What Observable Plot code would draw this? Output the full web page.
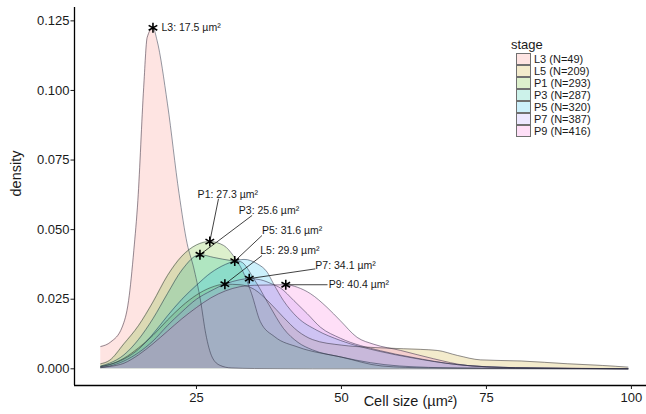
<!DOCTYPE html>
<html><head><meta charset="utf-8">
<script src="https://cdn.jsdelivr.net/npm/d3@7"></script>
<script src="https://cdn.jsdelivr.net/npm/@observablehq/plot@0.6"></script>
<style>
body{margin:0;background:#fff;}
#wrap{position:relative;width:646px;height:414px;font-family:"Liberation Sans",Arial,sans-serif;color:#1a1a1a;}
#legend{position:absolute;left:511px;top:37px;}
#legend .title{font-size:13px;line-height:15px;margin-bottom:1px;}
#legend .row{display:flex;align-items:center;height:12px;margin-left:5px;}
#legend .key{width:15px;height:12px;box-sizing:border-box;border:1px solid #707070;}
#legend .lab{font-size:11px;margin-left:3px;white-space:nowrap;}
</style></head><body><div id="wrap"></div>
<script>
// ---- data ----
const stages = ["L3", "L5", "P1", "P3", "P5", "P7", "P9"];
const counts = [49, 209, 293, 287, 320, 387, 416];
const colors = ["#F8766D", "#C49A00", "#53B400", "#00C094", "#00B6EB", "#A58AFF", "#FB61D7"];

const L3x = [8.5, 10.2, 12.2, 13.3, 14.2, 14.9, 15.9, 16.5, 17.5, 18.2, 20, 22, 23.4, 24.5, 25.7, 26.6, 27.7, 29.1, 31, 35, 45, 60, 80, 99.4];
const L3y = [0.008, 0.0096, 0.015, 0.0245, 0.0425, 0.0605, 0.101, 0.119, 0.1225, 0.118, 0.0952, 0.0629, 0.0449, 0.0365, 0.0245, 0.0126, 0.0042, 0.0012, 0.0003, 0.0001, 0, 0, 0, 0];

const L5x = [8.5, 10, 12.5, 15, 17.5, 20, 22.5, 25, 27.5, 29.9, 32.5, 35, 37.5, 40, 42.5, 45, 50, 55, 60.7, 66.5, 70, 74, 81, 89, 95, 99.4];
const L5y = [0.0008, 0.0015, 0.0038, 0.0075, 0.012, 0.0175, 0.0225, 0.0265, 0.0292, 0.0304, 0.0302, 0.0285, 0.024, 0.0185, 0.0135, 0.0105, 0.0085, 0.0077, 0.0072, 0.0066, 0.0048, 0.0032, 0.0028, 0.0018, 0.0012, 0.0006];

const P1x = [8.5, 10, 12.5, 15, 17.5, 20, 22.5, 25, 27.3, 29.7, 31.4, 33, 34.5, 36, 38.5, 42.5, 50, 57, 65, 80, 99.4];
const P1y = [0.0018, 0.003, 0.009, 0.0155, 0.024, 0.0335, 0.0405, 0.0445, 0.0457, 0.0443, 0.0405, 0.035, 0.027, 0.017, 0.0115, 0.0078, 0.0042, 0.001, 0.0003, 0.0001, 0];

const P3x = [8.5, 10, 12.5, 15, 17.5, 20, 22.5, 25.6, 28, 30.9, 32.6, 35, 37.5, 40, 42.5, 45, 50, 55, 60, 70, 99.4];
const P3y = [0.001, 0.002, 0.005, 0.0105, 0.018, 0.027, 0.0355, 0.041, 0.040, 0.0389, 0.0385, 0.032, 0.023, 0.0145, 0.0095, 0.0068, 0.0042, 0.0022, 0.001, 0.0003, 0];

const P5x = [8.5, 10, 12.5, 15, 17.5, 20, 22.5, 25, 27.5, 30, 31.6, 33.2, 35.5, 37.2, 38.3, 40, 42.4, 45.8, 49.8, 56.7, 62, 70, 80, 99.4];
const P5y = [0.0008, 0.0015, 0.0035, 0.007, 0.0125, 0.019, 0.025, 0.030, 0.0345, 0.0375, 0.0387, 0.0393, 0.0377, 0.0347, 0.0305, 0.0245, 0.0185, 0.0138, 0.0102, 0.0062, 0.004, 0.0015, 0.0004, 0];

const P7x = [8.5, 10, 12.5, 15, 17.5, 20, 22.5, 25, 27.5, 30, 32.5, 34.1, 36, 38, 39.5, 41.8, 44.1, 46.4, 49.8, 56.7, 62, 70, 80, 99.4];
const P7y = [0.0005, 0.001, 0.0028, 0.0058, 0.010, 0.0155, 0.0205, 0.025, 0.028, 0.0305, 0.032, 0.0324, 0.032, 0.0305, 0.029, 0.0245, 0.0198, 0.0149, 0.011, 0.0065, 0.0042, 0.0015, 0.0004, 0];

const P9x = [8.5, 10, 12.5, 15, 17.5, 20, 22.5, 25, 27.5, 30, 32.5, 35, 37.5, 40.4, 42.4, 44.65, 47.5, 49.8, 52.7, 55.6, 60.2, 65.9, 71.7, 80, 90, 99.4];
const P9y = [0.0004, 0.0008, 0.002, 0.005, 0.009, 0.0135, 0.018, 0.022, 0.0255, 0.028, 0.0295, 0.0300, 0.0301, 0.0302, 0.0293, 0.027, 0.0221, 0.0173, 0.0113, 0.0088, 0.0066, 0.0036, 0.0012, 0.0004, 0.0002, 0];

// annotated values (µm²) and the density at that point
const markX = [17.5, 29.9, 27.3, 25.6, 31.6, 34.1, 40.4];
const markY = [0.1225, 0.0304, 0.0457, 0.041, 0.0387, 0.0324, 0.0302];
// label anchors (data units) and leader-line ends
const labelX = [18.97, 36.0, 25.2, 32.3, 36.3, 45.5, 47.8];
const labelY = [0.1225, 0.0425, 0.0626, 0.0569, 0.0497, 0.0371, 0.0302];
const lineX = [null, 36.3, 28.8, 34.6, 36.3, 45.5, 47.6];
const lineY = [null, 0.0407, 0.0611, 0.0551, 0.0479, 0.0359, 0.0302];

const xTicks = [25, 50, 75, 100];
const yTicks = [0, 0.025, 0.05, 0.075, 0.1, 0.125];
const xDomain = [3.97, 102.6];
const yDomain = [-0.0060, 0.1298];

// ---- build tidy table ----
const seriesX = [L3x, L5x, P1x, P3x, P5x, P7x, P9x];
const seriesY = [L3y, L5y, P1y, P3y, P5y, P7y, P9y];
const dens = [];
stages.forEach((s, i) => seriesX[i].forEach((x, j) => dens.push({stage: s, x, y: seriesY[i][j]})));
const marks = stages.map((s, i) => ({
  stage: s, x: markX[i], y: markY[i], lx: labelX[i], ly: labelY[i], ex: lineX[i], ey: lineY[i],
  text: `${s}: ${markX[i].toFixed(1)} µm²`
}));
const colorScale = {domain: stages, range: colors};

const font = '"Liberation Sans", Arial, sans-serif';
const chart = Plot.plot({
  width: 646, height: 414,
  marginLeft: 74, marginRight: 0, marginTop: 7, marginBottom: 29,
  style: {fontFamily: font, background: "#fff", color: "#1a1a1a"},
  x: {domain: xDomain},
  y: {domain: yDomain},
  color: colorScale,
  marks: [
    Plot.areaY(dens, {x: "x", y1: 0, y2: "y", z: "stage", fill: "stage", fillOpacity: 0.2, curve: "monotone-x"}),
    Plot.lineY(dens, {x: "x", y: "y", z: "stage", stroke: "#2b2b40", strokeWidth: 0.6, strokeOpacity: 0.85, curve: "monotone-x"}),
    Plot.link(marks.filter(d => d.ex != null), {x1: "x", y1: "y", x2: "ex", y2: "ey", stroke: "#111", strokeWidth: 0.8}),
    Plot.dot(marks, {x: "x", y: "y", symbol: "asterisk", r: 4.7, stroke: "#000", strokeWidth: 1.6}),
    Plot.text(marks, {x: "lx", y: "ly", text: "text", textAnchor: "start", fontSize: 10.5, fill: "#1a1a1a"}),
    Plot.ruleX([xDomain[0]], {stroke: "#000", strokeWidth: 1.3}),
    Plot.ruleY([yDomain[0]], {stroke: "#000", strokeWidth: 1.3}),
    Plot.axisY({ticks: yTicks, tickFormat: d3.format(".3f"), tickSize: 3.5, tickPadding: 1.5, fontSize: 13, label: null}),
    Plot.axisX({ticks: xTicks, tickSize: 4, tickPadding: 3, fontSize: 13, label: null}),
    Plot.text(["density"], {frameAnchor: "left", dx: -58, rotate: -90, fontSize: 14.5, fill: "#1a1a1a"}),
    Plot.text(["Cell size (µm²)"], {frameAnchor: "bottom", dx: 50, dy: 20, fontSize: 14.5, fill: "#1a1a1a"})
  ]
});
const wrap = document.getElementById("wrap");
wrap.appendChild(chart);

// legend
const leg = document.createElement("div");
leg.id = "legend";
const title = document.createElement("div");
title.className = "title"; title.textContent = "stage";
leg.appendChild(title);
stages.forEach((s, i) => {
  const row = document.createElement("div"); row.className = "row";
  const key = document.createElement("div"); key.className = "key";
  const c = d3.rgb(colors[i]);
  const a = 0.2;
  key.style.background = d3.rgb(255 - a * (255 - c.r), 255 - a * (255 - c.g), 255 - a * (255 - c.b)).formatHex();
  const lab = document.createElement("div"); lab.className = "lab";
  lab.textContent = `${s} (N=${counts[i]})`;
  row.appendChild(key); row.appendChild(lab);
  leg.appendChild(row);
});
wrap.appendChild(leg);
</script></body></html>
